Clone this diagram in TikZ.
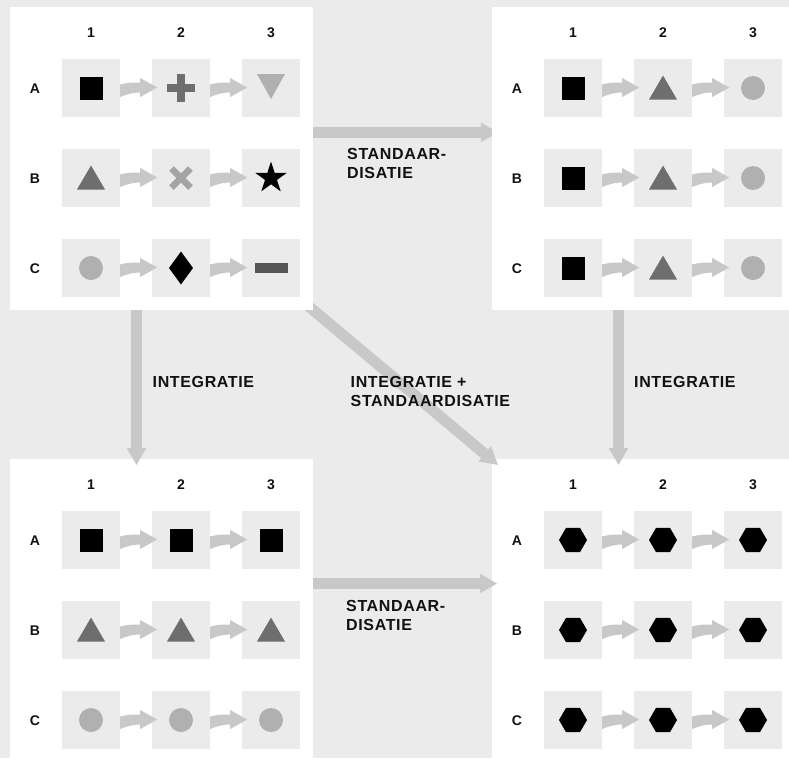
\documentclass[tikz,border=0pt]{standalone}
\usepackage{fontspec}
\setmainfont{Liberation Sans}
\newfontfamily\lblfont[LetterSpace=4]{Liberation Sans}
\usetikzlibrary{calc}
\definecolor{bggray}{HTML}{EBEBEB}
\definecolor{cellgray}{HTML}{EBEBEB}
\definecolor{arrgray}{HTML}{C8C8C8}
\definecolor{dgray}{HTML}{6E6E6E}
\definecolor{lgray}{HTML}{B0B0B0}
\definecolor{xgray}{HTML}{A4A4A4}
\definecolor{mgray}{HTML}{555555}
\definecolor{txt}{HTML}{111111}
\pgfdeclarelayer{front}
\pgfsetlayers{main,front}
\newcommand\twoline[2]{\begin{tabular}[t]{@{}l@{}}#1\\#2\end{tabular}}
\tikzset{
  panel/.style={fill=white, draw=none, minimum width=303pt, minimum height=303pt, inner sep=0pt},
  cell/.style={fill=cellgray, draw=none, minimum size=58pt, inner sep=0pt},
  hdr/.style={anchor=base, inner sep=0pt, text=txt, font=\bfseries\fontsize{14}{16}\selectfont},
  biglbl/.style={anchor=base west, inner sep=0pt, text=txt, font=\lblfont\bfseries\fontsize{16}{19}\selectfont},
  bigshaft/.style={draw=arrgray, line width=11pt},
  smallarr/.pic={\fill[arrgray] (0,-3.5) .. controls (7,-5.5) and (13,-5.5) .. (20,-5.5) -- (20,-10) -- (37,-0.5) -- (20,9) -- (20,4.5) .. controls (13,4.5) and (7,6) .. (0,9) -- cycle;},
  shSq/.pic={\fill[black] (-11.5,-11.5) rectangle (11.5,11.5);},
  shPlus/.pic={\fill[dgray] (-14,-3.7) rectangle (14,3.7); \fill[dgray] (-3.7,-14) rectangle (3.7,14);},
  shTriDown/.pic={\fill[lgray] (-14,-14) -- (14,-14) -- (0,11) -- cycle;},
  shTriUp/.pic={\fill[dgray] (-14,11.5) -- (14,11.5) -- (0,-12.5) -- cycle;},
  shCross/.pic={\draw[xgray, line width=6.5pt] (-9.5,-9.5) -- (9.5,9.5) (-9.5,9.5) -- (9.5,-9.5);},
  shStar/.pic={\fill[black] (-90:16.5) -- (-54:6.3) -- (-18:16.5) -- (18:6.3) -- (54:16.5) -- (90:6.3) -- (126:16.5) -- (162:6.3) -- (198:16.5) -- (234:6.3) -- cycle;},
  shCirc/.pic={\fill[lgray] (0,0) circle[radius=12];},
  shDiamond/.pic={\fill[black] (0,-16.5) -- (12,0) -- (0,16.5) -- (-12,0) -- cycle;},
  shMinus/.pic={\fill[mgray] (-16.5,-5) rectangle (16.5,5);},
  shHex/.pic={\fill[black] (0:14) -- (60:14) -- (120:14) -- (180:14) -- (240:14) -- (300:14) -- cycle;},
}
\newcommand\mkpanel[3]{%
  \node[panel] (#1) at ({161.5+#2},{158.5+#3}) {};
  \foreach \c [count=\j from 0] in {1,2,3} {\node[hdr] (#1-h\c) at ({91+90*\j+#2},{37+#3}) {\c};}
  \foreach \r [count=\i from 0] in {A,B,C} {
    \node[hdr] (#1-r\r) at ({35+#2},{93+90*\i+#3}) {\r};
    \foreach \k in {1,2,3} {\node[cell] (#1-\r\k) at ({1+90*\k+#2},{88+90*\i+#3}) {};}
    \pic at (#1-\r1.east) {smallarr};
    \pic at (#1-\r2.east) {smallarr};
  }
}
\newcommand\bigarr[2]{%
  \path #1 coordinate (ba-s) #2 coordinate (ba-t);
  \coordinate (ba-b) at ($(ba-t)!17pt!(ba-s)$);
  \draw[bigshaft] (ba-s) -- ($(ba-t)!16pt!(ba-s)$);
  \fill[arrgray] (ba-t) -- ($(ba-b)!10pt!90:(ba-t)$) -- ($(ba-b)!10pt!-90:(ba-t)$) -- cycle;
}
\begin{document}
\begin{tikzpicture}[x=1pt,y=-1pt]
\useasboundingbox (0,0) rectangle (789,758);
\fill[bggray] (0,0) rectangle (789,758);
% top panels (front layer)
\begin{pgfonlayer}{front}
\mkpanel{tl}{0}{0}
\pic at (tl-A1) {shSq}; \pic at (tl-A2) {shPlus}; \pic at (tl-A3) {shTriDown};
\pic at (tl-B1) {shTriUp}; \pic at (tl-B2) {shCross}; \pic at (tl-B3) {shStar};
\pic at (tl-C1) {shCirc}; \pic at (tl-C2) {shDiamond}; \pic at (tl-C3) {shMinus};
\mkpanel{tr}{482}{0}
\foreach \r in {A,B,C} {\pic at (tr-\r1) {shSq}; \pic at (tr-\r2) {shTriUp}; \pic at (tr-\r3) {shCirc};}
\end{pgfonlayer}
% bottom panels
\mkpanel{bl}{0}{452}
\foreach \k in {1,2,3} {\pic at (bl-A\k) {shSq}; \pic at (bl-B\k) {shTriUp}; \pic at (bl-C\k) {shCirc};}
\mkpanel{br}{482}{452}
\foreach \r in {A,B,C} {\foreach \k in {1,2,3} {\pic at (br-\r\k) {shHex};}}
% big arrows
\bigarr{([yshift=26pt]tl.east)}{([xshift=6pt,yshift=26pt]tr.west)}
\bigarr{([yshift=27pt]bl.east)}{([xshift=5pt,yshift=27pt]br.west)}
\bigarr{([xshift=-25pt]tl.south)}{([xshift=-25pt,yshift=-6pt]bl.north)}
\bigarr{([xshift=-25pt]tr.south)}{([xshift=-25pt,yshift=-6pt]br.north)}
\bigarr{([xshift=-13pt,yshift=11pt]tl.south east)}{([xshift=6pt,yshift=-6pt]br.north west)}
% labels
\node[biglbl] (lbl-top) at (347,159) {\twoline{STANDAAR-}{DISATIE}};
\node[biglbl] (lbl-bot) at (346,611) {\twoline{STANDAAR-}{DISATIE}};
\node[biglbl] (lbl-left) at (152.5,387) {INTEGRATIE};
\node[biglbl] (lbl-right) at (634,387) {INTEGRATIE};
\node[biglbl] (lbl-diag) at (350.5,387) {\twoline{INTEGRATIE +}{STANDAARDISATIE}};
\end{tikzpicture}
\end{document}
